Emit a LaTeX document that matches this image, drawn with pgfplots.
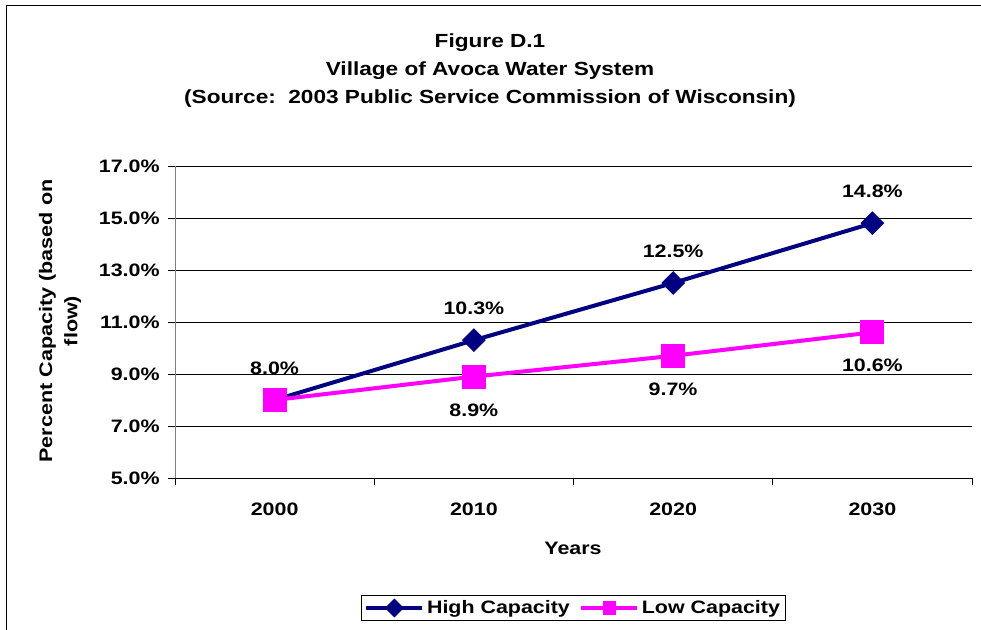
\documentclass[border=0pt]{standalone}
\usepackage{fontspec}
\setmainfont{Liberation Sans}
\newfontfamily\stretchfont[FakeStretch=1.19]{Liberation Sans}
\usepackage{pgfplots}
\pgfplotsset{compat=1.18}
\definecolor{hinavy}{RGB}{0,0,128}
\definecolor{lomag}{RGB}{255,0,255}
\newcommand\lbl{\stretchfont\bfseries\fontsize{13.5}{16}\selectfont}
\begin{document}
\begin{tikzpicture}
\path[use as bounding box] (0,0) rectangle (735.75pt,-472.5pt);
\draw[line width=0.75pt] (4.5pt,-472.5pt) -- (4.5pt,-4.5pt) -- (735.75pt,-4.5pt);
\node[align=center, font=\stretchfont\bfseries\fontsize{14.25}{20.8}\selectfont] at (367.5pt,-53pt)
  {Figure D.1\\Village of Avoca Water System\\(Source:\ \ 2003 Public Service Commission of Wisconsin)};
\node[rotate=90, align=center, font=\stretchfont\bfseries\fontsize{13.6}{19}\selectfont] at (45pt,-240.75pt)
  {Percent Capacity (based on\\flow)};
\node[font=\lbl] at (429.75pt,-411pt) {Years};
\begin{axis}[
  at={(131.25pt,-358.5pt)}, anchor=south west,
  scale only axis, width=597.75pt, height=234pt,
  xmin=-0.5, xmax=3.5, ymin=5, ymax=17,
  xtick={-0.5,0.5,1.5,2.5,3.5},
  xticklabels={2000,2010,2020,2030},
  x tick label as interval,
  ytick={5,7,9,11,13,15,17},
  yticklabels={5.0\%,7.0\%,9.0\%,11.0\%,13.0\%,15.0\%,17.0\%},
  axis x line*=bottom, axis y line*=left,
  tick align=outside, major tick length=5pt,
  tick style={black, line width=0.6pt},
  ymajorgrids, grid style={black, line width=0.6pt},
  x axis line style={black, line width=0.75pt},
  y axis line style={gray, line width=0.75pt},
  ticklabel style={font=\lbl},
  yticklabel style={xshift=-3pt},
  xticklabel style={yshift=-10.5pt},
  clip=false,
  legend columns=2,
  legend style={at={(0.5,-0.4167)}, anchor=center, draw=black, line width=0.75pt,
    font=\lbl, inner sep=2pt,
    /tikz/every even column/.append style={column sep=5pt}},
  legend image code/.code={\draw[#1, mark size=3.5pt, mark repeat=2, mark phase=2] plot coordinates {(0pt,0pt)(21pt,0pt)(42pt,0pt)};},
]
\addplot[color=hinavy, line width=3pt, mark=square*,
  mark options={rotate=45, fill=hinavy, draw=none}, mark size=4.8pt,
  nodes near coords, point meta=explicit symbolic,
  every node near coord/.append style={anchor=center, yshift=24pt, font=\lbl, text=black}]
  coordinates {(0,8.0) [8.0\%] (1,10.3) [10.3\%] (2,12.5) [12.5\%] (3,14.8) [14.8\%]};
\addlegendentry{High Capacity}
\addplot[color=lomag, line width=3pt, mark=square*,
  mark options={fill=lomag, draw=none}, mark size=7.5pt,
  nodes near coords, point meta=explicit symbolic,
  every node near coord/.append style={anchor=center, yshift=-25pt, font=\lbl, text=black}]
  coordinates {(0,8.0) [] (1,8.9) [8.9\%] (2,9.7) [9.7\%] (3,10.6) [10.6\%]};
\addlegendentry{Low Capacity}
\end{axis}
\end{tikzpicture}
\end{document}
